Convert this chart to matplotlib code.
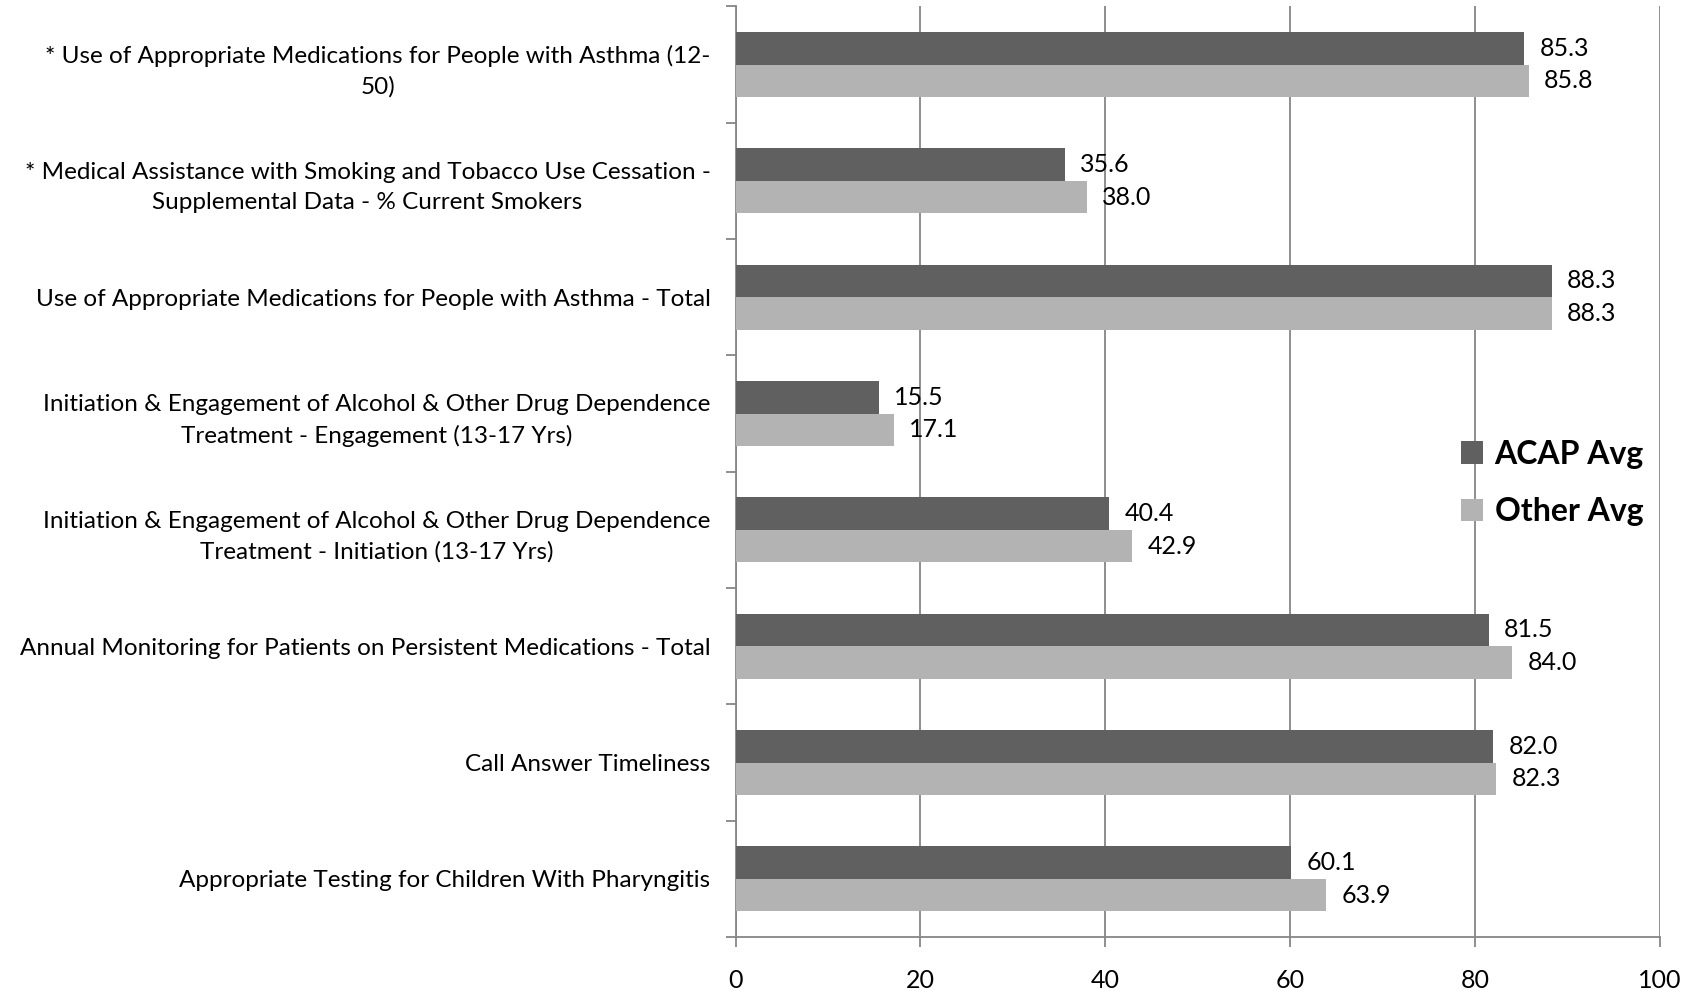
import numpy as np
import matplotlib.pyplot as plt
from matplotlib.ticker import FixedLocator

measures = [
    '* Use of Appropriate Medications for People with Asthma (12-\n50)',
    '* Medical Assistance with Smoking and Tobacco Use Cessation -\nSupplemental Data - % Current Smokers',
    'Use of Appropriate Medications for People with Asthma - Total',
    'Initiation & Engagement of Alcohol & Other Drug Dependence\nTreatment - Engagement (13-17 Yrs)',
    'Initiation & Engagement of Alcohol & Other Drug Dependence\nTreatment - Initiation (13-17 Yrs)',
    'Annual Monitoring for Patients on Persistent Medications - Total',
    'Call Answer Timeliness',
    'Appropriate Testing for Children With Pharyngitis',
]
acap_avg = [85.3, 35.6, 88.3, 15.5, 40.4, 81.5, 82.0, 60.1]
other_avg = [85.8, 38.0, 88.3, 17.1, 42.9, 84.0, 82.3, 63.9]
xticks = [0, 20, 40, 60, 80, 100]

plt.rcParams['font.family'] = ['Lato', 'DejaVu Sans']

fig = plt.figure(figsize=(16.96, 9.91), dpi=100)
ax = fig.add_axes([0.4337, 0.0545, 0.545, 0.939])

y = np.arange(len(measures))
h = 0.28
b1 = ax.barh(y - h / 2, acap_avg, height=h, color='#606060', label='ACAP Avg', zorder=3)
b2 = ax.barh(y + h / 2, other_avg, height=h, color='#b3b3b3', label='Other Avg', zorder=3)
ax.bar_label(b1, fmt='%.1f', padding=11, fontsize=18)
ax.bar_label(b2, fmt='%.1f', padding=11, fontsize=18)

ax.set_ylim(len(measures) - 0.5, -0.5)
ax.set_xlim(0, 100)
ax.set_xticks(xticks)
ax.set_yticks(y)
ax.set_yticklabels(measures, fontsize=17.5, ha='right', multialignment='center', linespacing=1.55)
ax.yaxis.set_minor_locator(FixedLocator(np.arange(-0.5, len(measures), 1)))
ax.tick_params(axis='y', which='major', length=0, pad=18)
ax.tick_params(axis='y', which='minor', length=7, color='#868686', width=1.3)
ax.tick_params(axis='x', length=7, color='#868686', width=1.3, pad=16, labelsize=18)

ax.grid(axis='x', color='#868686', linewidth=1.3, zorder=0)
for s in ['top', 'right']:
    ax.spines[s].set_visible(False)
for s in ['left', 'bottom']:
    ax.spines[s].set_color('#868686')
    ax.spines[s].set_linewidth(1.3)

ax.legend(loc='center left', bbox_to_anchor=(0.771, 0.488), frameon=False,
          prop={'weight': 'bold', 'size': 23}, handlelength=0.7, handleheight=0.7,
          handletextpad=0.35, labelspacing=0.9, borderaxespad=0)

fig.savefig('out.png', dpi=100)
